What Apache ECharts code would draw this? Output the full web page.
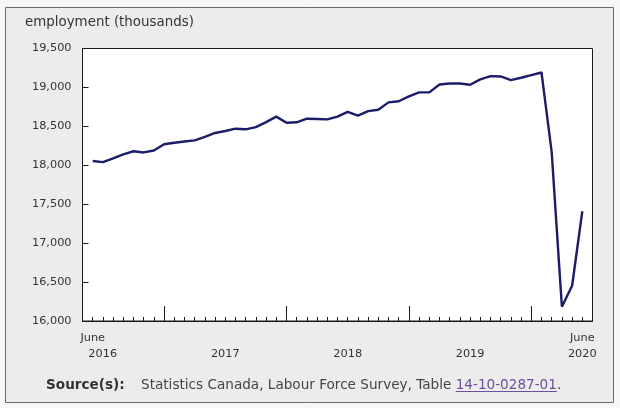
<!DOCTYPE html>
<html><head><meta charset="utf-8">
<script src="https://cdn.jsdelivr.net/npm/echarts@6/dist/echarts.min.js"></script>
<style>html,body{margin:0;padding:0;background:#f7f7f7}#c{width:620px;height:408px}</style>
</head><body><div id="c"></div><script>
const months = [
 'Jun 2016','Jul 2016','Aug 2016','Sep 2016','Oct 2016','Nov 2016','Dec 2016',
 'Jan 2017','Feb 2017','Mar 2017','Apr 2017','May 2017','Jun 2017','Jul 2017','Aug 2017','Sep 2017','Oct 2017','Nov 2017','Dec 2017',
 'Jan 2018','Feb 2018','Mar 2018','Apr 2018','May 2018','Jun 2018','Jul 2018','Aug 2018','Sep 2018','Oct 2018','Nov 2018','Dec 2018',
 'Jan 2019','Feb 2019','Mar 2019','Apr 2019','May 2019','Jun 2019','Jul 2019','Aug 2019','Sep 2019','Oct 2019','Nov 2019','Dec 2019',
 'Jan 2020','Feb 2020','Mar 2020','Apr 2020','May 2020','Jun 2020'
];
const employment = [
 18055,18040,18090,18140,18180,18165,18190,
 18270,18290,18305,18320,18365,18415,18440,18470,18462,18490,18555,18625,
 18547,18552,18598,18595,18590,18625,18685,18638,18696,18714,18808,18822,
 18885,18936,18937,19038,19050,19050,19035,19103,19145,19141,19094,19124,
 19158,19192,18170,16183,16453,17410
];
const yearTicks = ['Jan 2017','Jan 2018','Jan 2019','Jan 2020'];
const yearLabelMonths = ['Jun 2016','Jul 2017','Jul 2018','Jul 2019','Jun 2020'];
const yearLabels = ['2016','2017','2018','2019','2020'];
const monthLabelMonths = ['Jun 2016','Jun 2020'];
const monthLabels = ['June','June'];
const yMin = 16000, yMax = 19500, yStep = 500;
const titleText = 'employment (thousands)';
const sourceLabel = 'Source(s):';
const sourceText = 'Statistics Canada, Labour Force Survey, Table ';
const sourceLink = '14-10-0287-01';

const FONT = '"DejaVu Sans", Verdana, sans-serif';
const idx = m => months.indexOf(m);
const xMin = -1, xMax = months.length;

function measure(text, font) {
  const ctx = document.createElement('canvas').getContext('2d');
  ctx.font = font;
  return ctx.measureText(text).width;
}
const srcFontSize = 13.6;
const x1 = 141;
const w2 = measure(sourceText, srcFontSize + 'px ' + FONT);
const x3 = x1 + w2;
const w3 = measure(sourceLink, srcFontSize + 'px ' + FONT);

const baseX = {
  type: 'value', min: xMin, max: xMax, gridIndex: 0, position: 'bottom',
  splitLine: { show: false }
};
const chart = echarts.init(document.getElementById('c'), null, { renderer: 'canvas' });
chart.setOption({
  animation: false,
  textStyle: { fontFamily: FONT },
  graphic: [
    { type: 'rect', z: -10, shape: { x: 5.5, y: 7.5, width: 608, height: 395 },
      style: { fill: '#ececec', stroke: '#6a6a6a', lineWidth: 1 } },
    { type: 'text', x: 25, y: 23, style: { text: titleText, font: '13.4px ' + FONT, fill: '#333', verticalAlign: 'middle' } },
    { type: 'text', x: 46, y: 385, style: { text: sourceLabel, font: 'bold ' + srcFontSize + 'px ' + FONT, fill: '#333', verticalAlign: 'middle' } },
    { type: 'text', x: x1, y: 385, style: { text: sourceText, font: srcFontSize + 'px ' + FONT, fill: '#444', verticalAlign: 'middle' } },
    { type: 'text', x: x3, y: 385, style: { text: sourceLink, font: srcFontSize + 'px ' + FONT, fill: '#6f4f9e', verticalAlign: 'middle' } },
    { type: 'line', shape: { x1: x3, y1: 391.5, x2: x3 + w3, y2: 391.5 }, style: { stroke: '#6f4f9e', lineWidth: 1 } },
    { type: 'text', x: x3 + w3, y: 385, style: { text: '.', font: srcFontSize + 'px ' + FONT, fill: '#444', verticalAlign: 'middle' } }
  ],
  grid: { left: 82.5, top: 48.5, right: 27.5, bottom: 87, show: true,
          backgroundColor: '#fff', borderColor: '#1a1a1a', borderWidth: 1 },
  xAxis: [
    Object.assign({}, baseX, {
      interval: 1,
      axisLine: { show: true, onZero: false, lineStyle: { color: '#1a1a1a', width: 1 } },
      axisTick: { show: true, inside: true, length: 4, lineStyle: { color: '#1a1a1a' } },
      axisLabel: { show: false }
    }),
    Object.assign({}, baseX, {
      axisLine: { show: false, onZero: false },
      axisTick: { show: true, inside: true, length: 15, customValues: yearTicks.map(idx), lineStyle: { color: '#1a1a1a' } },
      axisLabel: { show: true, customValues: monthLabelMonths.map(idx), margin: 12,
        fontSize: 11.3, color: '#333', fontFamily: FONT,
        formatter: v => monthLabels[monthLabelMonths.map(idx).indexOf(v)] }
    }),
    Object.assign({}, baseX, {
      axisLine: { show: false, onZero: false },
      axisTick: { show: false },
      axisLabel: { show: true, customValues: yearLabelMonths.map(idx), margin: 28,
        fontSize: 11.3, color: '#333', fontFamily: FONT,
        formatter: v => {
          const i = yearLabelMonths.map(idx).indexOf(v);
          return i === 0 ? '{s|' + yearLabels[i] + '}' : yearLabels[i];
        },
        rich: { s: { fontSize: 11.3, color: '#333', fontFamily: FONT, padding: [0, 0, 0, 20] } } }
    })
  ],
  yAxis: {
    type: 'value', min: yMin, max: yMax, interval: yStep,
    axisLine: { show: true, onZero: false, lineStyle: { color: '#1a1a1a', width: 1 } },
    axisTick: { show: true, inside: true, length: 6, lineStyle: { color: '#1a1a1a' } },
    splitLine: { show: false },
    axisLabel: { margin: 11, fontSize: 11.3, color: '#333', fontFamily: FONT,
      formatter: v => v.toLocaleString('en-US') }
  },
  series: [{
    type: 'line', xAxisIndex: 0, yAxisIndex: 0,
    data: employment.map((v, i) => [i, v]),
    showSymbol: false, symbol: 'none',
    lineStyle: { color: '#1c1c6a', width: 2.4 },
    z: 5
  }]
});
</script></body></html>
